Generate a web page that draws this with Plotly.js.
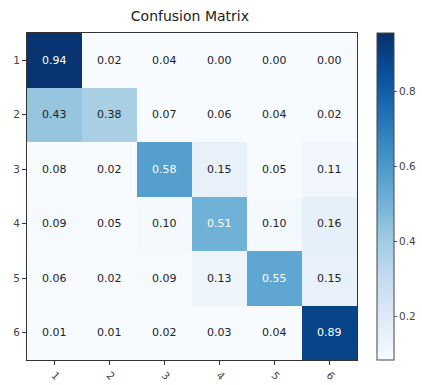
<!DOCTYPE html>
<html><head><meta charset="utf-8">
<script src="https://cdn.plot.ly/plotly-3.0.1.min.js"></script>
<style>html,body{margin:0;padding:0;background:#fff}#chart{width:422px;height:385px}</style>
</head><body><div id="chart"></div>
<script>
const classes = ["1","2","3","4","5","6"];
const row1 = [0.94,0.02,0.04,0.00,0.00,0.00];
const row2 = [0.43,0.38,0.07,0.06,0.04,0.02];
const row3 = [0.08,0.02,0.58,0.15,0.05,0.11];
const row4 = [0.09,0.05,0.10,0.51,0.10,0.16];
const row5 = [0.06,0.02,0.09,0.13,0.55,0.15];
const row6 = [0.01,0.01,0.02,0.03,0.04,0.89];
const matrix = [row1,row2,row3,row4,row5,row6];
const colorbarTicks = [0.2,0.4,0.6,0.8];

const blues = [[0,"#f7fbff"],[0.125,"#deebf7"],[0.25,"#c6dbef"],[0.375,"#9ecae1"],[0.5,"#6baed6"],[0.625,"#4292c6"],[0.75,"#2171b5"],[0.875,"#08519c"],[1,"#08306b"]];
const maxVal = Math.max(...matrix.flat());
const annotations = [];
matrix.forEach((row,i)=>row.forEach((v,j)=>{
  annotations.push({x:j, y:i, xref:"x", yref:"y", text:v.toFixed(2), showarrow:false,
    font:{family:"DejaVu Sans", size:11, color: v > maxVal/2 ? "#ffffff" : "#222222"}});
}));

const trace = {type:"heatmap", x:classes, y:classes, z:matrix, colorscale:blues,
  zmin:0.085, zmax:0.955, hoverinfo:"none",
  colorbar:{x:1.06, xanchor:"left", xpad:0, ypad:0, y:0, yanchor:"bottom", len:1, lenmode:"fraction", thickness:17,
    outlinewidth:1, outlinecolor:"#444", tickvals:colorbarTicks, ticktext:colorbarTicks.map(String),
    ticks:"outside", ticklen:3, tickcolor:"#555", tickfont:{family:"DejaVu Sans", size:10.5, color:"#444"}}};

const layout = {width:422, height:385, margin:{l:27, r:65, t:33, b:25, autoexpand:false},
  paper_bgcolor:"#fff", plot_bgcolor:"#fff",
  title:{text:"Confusion Matrix", font:{family:"DejaVu Sans", size:14, color:"#222"}, x:0.45, xanchor:"center", y:0.97, yanchor:"top"},
  xaxis:{type:"category", tickangle:45, ticks:"outside", ticklen:4, tickcolor:"#333",
    showline:true, linecolor:"#333", mirror:true, showgrid:false, zeroline:false,
    tickfont:{family:"DejaVu Sans", size:10.5, color:"#444"}},
  yaxis:{type:"category", autorange:"reversed", ticks:"outside", ticklen:4, tickcolor:"#333",
    showline:true, linecolor:"#333", mirror:true, showgrid:false, zeroline:false,
    tickfont:{family:"DejaVu Sans", size:10.5, color:"#444"}},
  annotations:annotations};
Plotly.newPlot("chart",[trace],layout,{displayModeBar:false, staticPlot:true});
</script></body></html>
